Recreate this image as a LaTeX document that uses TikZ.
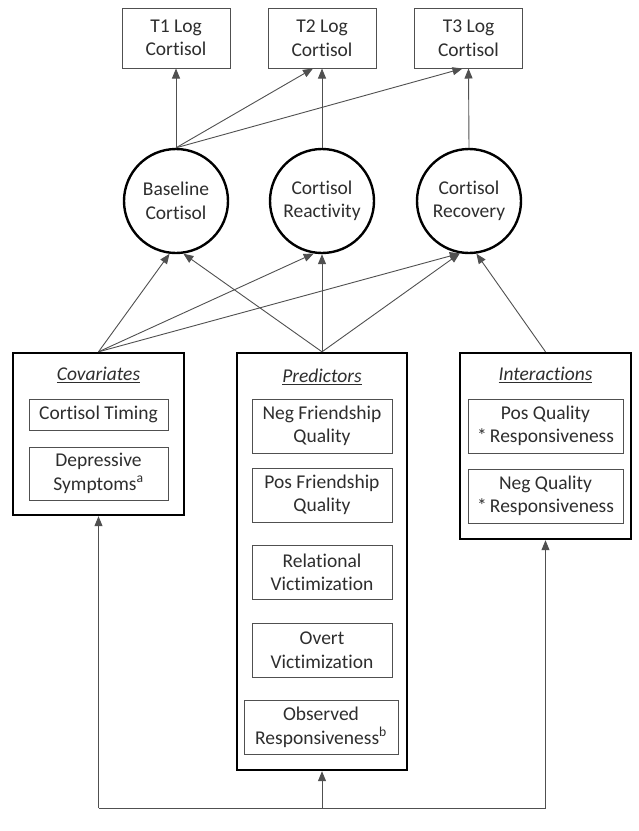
\documentclass[tikz,border=0pt]{standalone}
\usepackage{fontspec}
\setmainfont{Carlito}[Ligatures={NoCommon,TeX}]
\usetikzlibrary{arrows.meta,calc}
\definecolor{txt}{HTML}{2E2E2E}
\definecolor{thin}{HTML}{505050}
\begin{document}
\begin{tikzpicture}[x=1pt,y=-1pt,
  font=\fontsize{19.5}{23.5}\selectfont,
  every node/.style={text=txt},
  tbox/.style={draw=thin,line width=1pt,align=center,inner sep=0pt},
  bigbox/.style={draw=black,line width=2.4pt,inner sep=0pt},
  latent/.style={draw=black,line width=2.4pt,circle,minimum size=104pt,inner sep=0pt,align=center},
  arr/.style={draw=thin,line width=0.9pt,-{Triangle[length=10pt,width=8pt]}},
  ln/.style={draw=thin,line width=0.9pt}]
\useasboundingbox (0,0) rectangle (639,831);
\fill[white] (0,0) rectangle (639,831);
% top boxes
\node[tbox,minimum width=108pt,minimum height=60pt] (t1) at (176,38) {T1 Log\\Cortisol};
\node[tbox,minimum width=108pt,minimum height=60pt] (t2) at (322,38) {T2 Log\\Cortisol};
\node[tbox,minimum width=108pt,minimum height=60pt] (t3) at (468.5,38) {T3 Log\\Cortisol};
% latent
\node[latent] (base) at (176,201) {Baseline\\Cortisol};
\node[latent] (react) at (322,201) {Cortisol\\Reactivity};
\node[latent] (recov) at (469,201) {Cortisol\\Recovery};
% big boxes
\node[bigbox,minimum width=171pt,minimum height=162pt] (cov) at (98.5,434) {};
\node[bigbox,minimum width=170pt,minimum height=417pt] (pred) at (322,561.5) {};
\node[bigbox,minimum width=171pt,minimum height=186pt] (inter) at (545.5,446) {};
% titles
\node (covt) at (98.5,375) {\underline{\textit{Covariates}}};
\node (predt) at (322,377) {\underline{\textit{Predictors}}};
\node (intert) at (545.5,375) {\underline{\textit{Interactions}}};
% inner boxes
\node[tbox,minimum width=139pt,minimum height=31pt] (ct) at (98.5,414.5) {Cortisol Timing};
\node[tbox,minimum width=139pt,minimum height=53pt] (dep) at (98.5,473.5) {Depressive\\Symptoms\textsuperscript{a}};
\node[tbox,minimum width=140pt,minimum height=54pt] (negf) at (322,426) {Neg Friendship\\Quality};
\node[tbox,minimum width=140pt,minimum height=54pt] (posf) at (322,495) {Pos Friendship\\Quality};
\node[tbox,minimum width=140pt,minimum height=54pt] (rel) at (322,572.5) {Relational\\Victimization};
\node[tbox,minimum width=140pt,minimum height=54pt] (ov) at (322,650) {Overt\\Victimization};
\node[tbox,minimum width=154pt,minimum height=54pt] (obs) at (321,727.5) {Observed\\Responsiveness\textsuperscript{b}};
\node[tbox,minimum width=155pt,minimum height=54pt] (pq) at (545.5,426) {Pos Quality\\*\,Responsiveness};
\node[tbox,minimum width=155pt,minimum height=54pt] (nq) at (545.5,496) {Neg Quality\\*\,Responsiveness};
% arrows top
\draw[arr] (base.north) -- (t1.south);
\draw[arr] (base.north) -- ($(t2.south)+(-9,0)$);
\draw[arr] (base.north) -- ($(t3.south)+(-6,0)$);
\draw[arr] (react.north) -- (t2.south);
\draw[arr] (recov.north) -- (t3.south);
% arrows bottom
\draw[arr] (cov.north) -- (base.263);
\draw[arr] (cov.north) -- (react.261);
\draw[arr] (cov.north) -- (recov.260);
\draw[arr] (pred.north) -- (base.278);
\draw[arr] (pred.north) -- (react.south);
\draw[arr] (pred.north) -- (recov.260);
\draw[arr] (inter.north) -- (recov.278);
% bottom connectors
\coordinate (bl) at (98.5,808);
\coordinate (bm) at (322,808);
\coordinate (br) at (545.5,808);
\draw[ln] (bl) -- (br);
\draw[arr] (bl) -- (cov.south);
\draw[arr] (bm) -- (pred.south);
\draw[arr] (br) -- (inter.south);
\end{tikzpicture}
\end{document}
